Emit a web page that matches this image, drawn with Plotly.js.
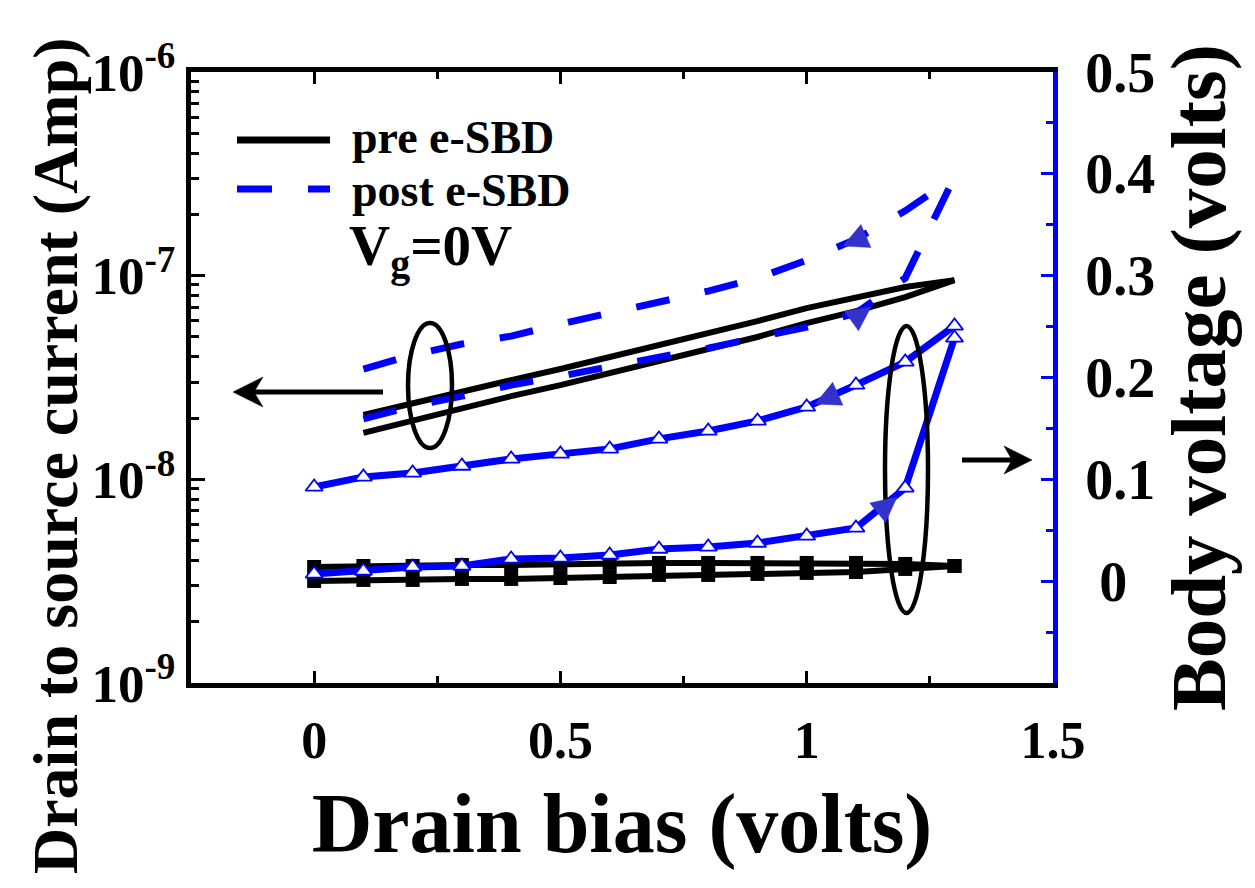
<!DOCTYPE html>
<html>
<head>
<meta charset="utf-8">
<script src="https://cdn.plot.ly/plotly-3.0.1.min.js"></script>
<style>
html, body { margin: 0; padding: 0; background: #ffffff; }
#chart { width: 1255px; height: 888px; }
</style>
</head>
<body>
<div id="chart"></div>
<script>
// ---------------- data ----------------
const drainBiasBody = [0, 0.1, 0.2, 0.3, 0.4, 0.5, 0.6, 0.7, 0.8, 0.9, 1.0, 1.1, 1.2, 1.3];
const drainBiasCurrent = [0.1, 0.2, 0.3, 0.4, 0.5, 0.6, 0.7, 0.8, 0.9, 1.0, 1.1, 1.2, 1.3];

// Drain-to-source current (A), pre e-SBD (two sweeps)
const idsPreUpper = [2.07e-8, 2.37e-8, 2.71e-8, 3.07e-8, 3.48e-8, 3.98e-8, 4.51e-8, 5.17e-8, 5.98e-8, 6.93e-8, 7.76e-8, 8.79e-8, 9.51e-8];
const idsPreLower = [1.69e-8, 1.95e-8, 2.24e-8, 2.56e-8, 2.90e-8, 3.32e-8, 3.77e-8, 4.31e-8, 5.00e-8, 5.85e-8, 6.70e-8, 7.85e-8, 9.51e-8];

// Drain-to-source current (A), post e-SBD (forward / reverse sweep)
const idsPostForward = [1.98e-8, 2.29e-8, 2.56e-8, 2.90e-8, 3.21e-8, 3.60e-8, 3.98e-8, 4.41e-8, 4.94e-8, 5.59e-8, 6.55e-8, 9.73e-8, 3.05e-7];
const idsPostReverse = [3.48e-8, 4.08e-8, 4.62e-8, 5.05e-8, 5.79e-8, 6.55e-8, 7.42e-8, 8.40e-8, 9.73e-8, 1.19e-7, 1.51e-7, 2.08e-7, 3.05e-7];

// Body voltage (V), pre e-SBD (two sweeps)
const vbPreUpper = [0.0139, 0.0149, 0.0149, 0.0159, 0.0159, 0.0169, 0.0179, 0.0179, 0.0179, 0.0179, 0.0179, 0.0179, 0.0169, 0.0149];
const vbPreLower = [0.0002, 0.0012, 0.0012, 0.0022, 0.0022, 0.0031, 0.0041, 0.0061, 0.0061, 0.0071, 0.0081, 0.0090, 0.0120, 0.0149];

// Body voltage (V), post e-SBD (forward / reverse sweep)
const vbPostForward = [0.0071, 0.0100, 0.0139, 0.0149, 0.0218, 0.0228, 0.0257, 0.0316, 0.0336, 0.0375, 0.0444, 0.0523, 0.0916, 0.2389];
const vbPostReverse = [0.0925, 0.1024, 0.1063, 0.1131, 0.1200, 0.1250, 0.1299, 0.1397, 0.1475, 0.1574, 0.1711, 0.1927, 0.2153, 0.2507];

// labels and ticks
const legendLabels = ["pre e-SBD", "post e-SBD"];
const conditionLabel = "V<sub>g</sub>=0V";
const xTitle = "Drain bias (volts)";
const yTitle = "Drain to source current (Amp)";
const y2Title = "Body voltage (volts)";
const xTickVals = [0, 0.5, 1, 1.5];
const xTickText = ["0", "0.5", "1", "1.5"];
const yTickVals = [1e-9, 1e-8, 1e-7, 1e-6];
const yTickText = ["10<sup>-9</sup>", "10<sup>-8</sup>", "10<sup>-7</sup>", "10<sup>-6</sup>"];
const y2TickVals = [0, 0.1, 0.2, 0.3, 0.4, 0.5];
const y2TickText = ["\u00a00", "0.1", "0.2", "0.3", "0.4", "0.5"];

// ---------------- styling ----------------
const FONT = "'Liberation Serif', 'Times New Roman', Times, serif";
const BLACK = "#000000";
const BLUE = "#0000ff";
const ARROWBLUE = "#3333cc";

// plot-area geometry (pixels) used only to place decorations
const PL = 191, PW = 862, PT = 72, PH = 611;
function px2paper(px, py) { return [(px - PL) / PW, (PT + PH - py) / PH]; }
function pathFrom(points) {
  return points.map(function (p, i) {
    const q = px2paper(p[0], p[1]);
    return (i === 0 ? "M" : "L") + q[0].toFixed(5) + "," + q[1].toFixed(5);
  }).join(" ") + " Z";
}
// filled triangular head: tip, direction (dx,dy), length, half width
function triHead(tx, ty, dx, dy, len, hw, color) {
  const n = Math.hypot(dx, dy); dx /= n; dy /= n;
  const bx = tx - len * dx, by = ty - len * dy;
  const pts = [[tx, ty], [bx - hw * dy, by + hw * dx], [bx + hw * dy, by - hw * dx]];
  return { type: "path", xref: "paper", yref: "paper", path: pathFrom(pts),
    fillcolor: color, line: { color: color, width: 0.5 }, layer: "above" };
}
// stealth head with notched back
function stealthHead(tx, ty, dx, dy, len, hw, notch, color) {
  const n = Math.hypot(dx, dy); dx /= n; dy /= n;
  const bx = tx - len * dx, by = ty - len * dy;
  const nx = tx - (len - notch) * dx, ny = ty - (len - notch) * dy;
  const pts = [[tx, ty], [bx - hw * dy, by + hw * dx], [nx, ny], [bx + hw * dy, by - hw * dx]];
  return { type: "path", xref: "paper", yref: "paper", path: pathFrom(pts),
    fillcolor: color, line: { color: color, width: 0.5 }, layer: "above" };
}
function pxLine(x0, y0, x1, y1, color, width) {
  const a = px2paper(x0, y0), b = px2paper(x1, y1);
  return { type: "line", xref: "paper", yref: "paper", x0: a[0], y0: a[1], x1: b[0], y1: b[1],
    line: { color: color, width: width }, layer: "above" };
}
function pxEllipse(x0, y0, x1, y1) {
  const a = px2paper(x0, y1), b = px2paper(x1, y0);
  return { type: "circle", xref: "paper", yref: "paper", x0: a[0], y0: a[1], x1: b[0], y1: b[1],
    line: { color: BLACK, width: 4.5 }, layer: "above" };
}

const yMinorVals = [];
[-9, -8, -7].forEach(function (d) {
  for (let k = 2; k <= 9; k++) yMinorVals.push(k * Math.pow(10, d));
});

const traces = [
  { x: drainBiasCurrent, y: idsPreUpper, name: legendLabels[0], mode: "lines",
    line: { color: BLACK, width: 6 }, xaxis: "x", yaxis: "y", showlegend: false },
  { x: drainBiasCurrent, y: idsPreLower, name: legendLabels[0], mode: "lines",
    line: { color: BLACK, width: 6 }, xaxis: "x", yaxis: "y", showlegend: false },
  { x: drainBiasCurrent, y: idsPostForward, name: legendLabels[1], mode: "lines",
    line: { color: BLUE, width: 7, dash: "34px,36px" }, xaxis: "x", yaxis: "y", showlegend: false },
  { x: drainBiasCurrent, y: idsPostReverse, name: legendLabels[1], mode: "lines",
    line: { color: BLUE, width: 7, dash: "34px,36px" }, xaxis: "x", yaxis: "y", showlegend: false },
  { x: drainBiasBody, y: vbPreUpper, name: legendLabels[0] + " body", mode: "lines+markers",
    line: { color: BLACK, width: 6 }, marker: { symbol: "square", size: 14, color: BLACK },
    xaxis: "x", yaxis: "y2", showlegend: false },
  { x: drainBiasBody, y: vbPreLower, name: legendLabels[0] + " body", mode: "lines+markers",
    line: { color: BLACK, width: 6 }, marker: { symbol: "square", size: 14, color: BLACK },
    xaxis: "x", yaxis: "y2", showlegend: false },
  { x: drainBiasBody, y: vbPostForward, name: legendLabels[1] + " body", mode: "lines+markers",
    line: { color: BLUE, width: 7 },
    marker: { symbol: "triangle-up", size: 15, color: "#ffffff", line: { color: BLUE, width: 1.8 } },
    xaxis: "x", yaxis: "y2", showlegend: false },
  { x: drainBiasBody, y: vbPostReverse, name: legendLabels[1] + " body", mode: "lines+markers",
    line: { color: BLUE, width: 7 },
    marker: { symbol: "triangle-up", size: 15, color: "#ffffff", line: { color: BLUE, width: 1.8 } },
    xaxis: "x", yaxis: "y2", showlegend: false }
];

const legendSolid = px2paper(237, 140), legendSolidEnd = px2paper(330, 140);
const legendDash = px2paper(237, 189), legendDashEnd = px2paper(330, 189);

const layout = {
  width: 1255, height: 888,
  margin: { l: PL, r: 1255 - PL - PW, t: PT, b: 888 - PT - PH, pad: 0 },
  paper_bgcolor: "#ffffff", plot_bgcolor: "#ffffff",
  showlegend: false,
  font: { family: FONT, color: BLACK, weight: "bold" },
  xaxis: {
    range: [-0.25, 1.5], tickmode: "array", tickvals: xTickVals, ticktext: xTickText,
    ticks: "inside", ticklen: 12, tickwidth: 3, tickcolor: BLACK,
    showline: true, linecolor: BLACK, linewidth: 5, mirror: "ticks",
    showgrid: false, zeroline: false,
    tickfont: { family: FONT, size: 52, color: BLACK, weight: "bold" },
    ticklabelstandoff: 8,
    minor: { dtick: 0.25, tick0: 0, ticks: "inside", ticklen: 7, tickwidth: 3, tickcolor: BLACK, showgrid: false },
    title: { text: xTitle, font: { family: FONT, size: 84, color: BLACK, weight: "bold" }, standoff: 26 }
  },
  yaxis: {
    type: "log", range: [-9, -6], tickmode: "array", tickvals: yTickVals, ticktext: yTickText,
    ticks: "inside", ticklen: 14, tickwidth: 3, tickcolor: BLACK,
    showline: true, linecolor: BLACK, linewidth: 5,
    showgrid: false, zeroline: false,
    tickfont: { family: FONT, size: 53, color: BLACK, weight: "bold" },
    ticklabelstandoff: 0,
    minor: { tickvals: yMinorVals, ticks: "inside", ticklen: 8, tickwidth: 3, tickcolor: BLACK, showgrid: false }
  },
  yaxis2: {
    overlaying: "y", side: "right", range: [-0.1, 0.5],
    tickmode: "array", tickvals: y2TickVals, ticktext: y2TickText,
    ticks: "inside", ticklen: 12, tickwidth: 3, tickcolor: BLUE,
    showline: true, linecolor: BLUE, linewidth: 5,
    showgrid: false, zeroline: false,
    tickfont: { family: FONT, size: 56, color: BLACK, weight: "bold" },
    ticklabelstandoff: 16,
    minor: { dtick: 0.05, tick0: 0, ticks: "inside", ticklen: 7, tickwidth: 3, tickcolor: BLUE, showgrid: false },
    title: { text: y2Title, font: { family: FONT, size: 79, color: BLACK, weight: "bold" }, standoff: 16 }
  },
  shapes: [
    pxEllipse(408, 323, 452, 448),
    pxEllipse(885, 326, 928, 613),
    { type: "line", xref: "paper", yref: "paper", x0: legendSolid[0], x1: legendSolidEnd[0],
      y0: legendSolid[1], y1: legendSolidEnd[1], line: { color: BLACK, width: 7 } },
    { type: "line", xref: "paper", yref: "paper", x0: legendDash[0], x1: legendDashEnd[0],
      y0: legendDash[1], y1: legendDashEnd[1], line: { color: BLUE, width: 7, dash: "35px,36px" } },
    // black pointer arrows (to the left axis / to the right axis)
    pxLine(383, 392, 252, 392, BLACK, 5),
    stealthHead(233, 392, -1, 0, 30, 15, 9, BLACK),
    pxLine(962, 460, 1015, 460, BLACK, 5),
    stealthHead(1032, 460, 1, 0, 28, 14, 8, BLACK),
    // blue sweep-direction arrowheads
    triHead(843, 246, -0.92, 0.40, 25, 12.5, ARROWBLUE),
    triHead(871, 307, 0.81, -0.58, 24, 12, ARROWBLUE),
    triHead(815, 404, -0.91, 0.41, 25, 12.5, ARROWBLUE),
    triHead(897, 497, 0.775, -0.632, 25, 12.5, ARROWBLUE)
  ],
  annotations: [
    { xref: "paper", yref: "paper", x: px2paper(55, 0)[0], y: px2paper(0, 456)[1], text: yTitle, textangle: -90,
      showarrow: false, xanchor: "center", yanchor: "middle",
      font: { family: FONT, size: 64, color: BLACK, weight: "bold" } },
    { xref: "paper", yref: "paper", x: px2paper(350, 0)[0], y: px2paper(0, 137)[1], text: legendLabels[0], showarrow: false,
      xanchor: "left", yanchor: "middle", font: { family: FONT, size: 46, color: BLACK, weight: "bold" } },
    { xref: "paper", yref: "paper", x: px2paper(350, 0)[0], y: px2paper(0, 190)[1], text: legendLabels[1], showarrow: false,
      xanchor: "left", yanchor: "middle", font: { family: FONT, size: 46, color: BLACK, weight: "bold" } },
    { xref: "paper", yref: "paper", x: px2paper(347, 0)[0], y: px2paper(0, 250)[1], text: conditionLabel, showarrow: false,
      xanchor: "left", yanchor: "middle", font: { family: FONT, size: 57, color: BLACK, weight: "bold" } }
  ]
};

Plotly.newPlot("chart", traces, layout, { displayModeBar: false, responsive: false, staticPlot: true });
</script>
</body>
</html>
